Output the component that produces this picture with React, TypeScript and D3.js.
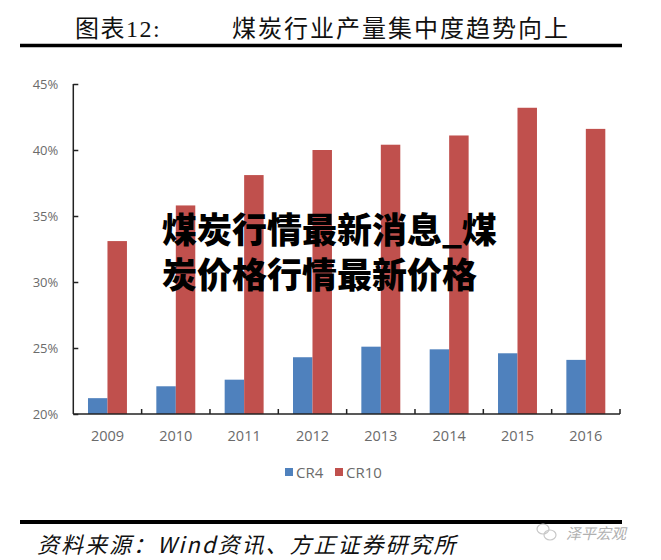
import * as d3 from "d3";
import { useEffect, useRef } from "react";

// chart data
const years = ["2009", "2010", "2011", "2012", "2013", "2014", "2015", "2016"];
const cr4 = [21.2, 22.1, 22.6, 24.3, 25.1, 24.9, 24.6, 24.1];
const cr10 = [33.1, 35.8, 38.1, 40.0, 40.4, 41.1, 43.2, 41.6];
const seriesNames = ["CR4", "CR10"];
const seriesColors = ["#4F81BD", "#C0504D"];
const yTicks = [20, 25, 30, 35, 40, 45];

const titleLabel = "图表12:";
const titleText = "煤炭行业产量集中度趋势向上";
const overlayLines = ["煤炭行情最新消息_煤", "炭价格行情最新价格"];
const sourceText = "资料来源：Wind资讯、方正证券研究所";
const brandText = "泽平宏观";

function App() {
  const ref = useRef<SVGSVGElement | null>(null);

  useEffect(() => {
    document.body.style.margin = "0";
    drawChart();
  }, []);

  const drawChart = () => {
    const width = 661;
    const height = 560;
    const margin = { top: 84, right: 41, bottom: 146, left: 73.3 };

    const svg = d3.select(ref.current);
    svg.selectAll("*").remove();
    svg.attr("width", width).attr("height", height);

    svg.append("rect").attr("width", width).attr("height", height).attr("fill", "#fff");

    // header
    svg
      .append("text")
      .attr("x", 75)
      .attr("y", 29)
      .attr("dominant-baseline", "central")
      .attr("font-family", "'Liberation Serif', 'Noto Sans CJK SC', serif")
      .attr("font-size", 24)
      .attr("letter-spacing", 1.5)
      .attr("fill", "#111")
      .text(titleLabel);
    svg
      .append("text")
      .attr("x", 232)
      .attr("y", 29)
      .attr("dominant-baseline", "central")
      .attr("font-family", "'Liberation Serif', 'Noto Sans CJK SC', serif")
      .attr("font-size", 24)
      .attr("letter-spacing", 2)
      .attr("fill", "#111")
      .text(titleText);
    svg
      .append("line")
      .attr("x1", 20)
      .attr("x2", 622)
      .attr("y1", 45.5)
      .attr("y2", 45.5)
      .attr("stroke", "#000")
      .attr("stroke-width", 3.5);

    const innerW = width - margin.left - margin.right;
    const innerH = height - margin.top - margin.bottom;

    const g = svg.append("g").attr("transform", `translate(${margin.left},${margin.top})`);

    const x = d3.scaleBand().domain(years).range([0, innerW]).paddingInner(0.43).paddingOuter(0.215);
    const xSub = d3.scaleBand().domain(seriesNames).range([0, x.bandwidth()]);
    const y = d3.scaleLinear().domain([20, 45]).range([innerH, 0]);

    // bars
    const values = [cr4, cr10];
    seriesNames.forEach((name, si) => {
      g.append("g")
        .selectAll("rect")
        .data(years)
        .join("rect")
        .attr("x", (d) => (x(d) ?? 0) + (xSub(name) ?? 0))
        .attr("y", (_d, i) => y(values[si][i]))
        .attr("width", xSub.bandwidth())
        .attr("height", (_d, i) => innerH - y(values[si][i]))
        .attr("fill", seriesColors[si]);
    });

    // y axis
    const yAxis = g
      .append("g")
      .call(
        d3
          .axisLeft(y)
          .tickValues(yTicks)
          .tickSize(-5)
          .tickPadding(15)
          .tickFormat((d) => `${d}%`)
      );
    yAxis.select(".domain").attr("stroke", "#222").attr("stroke-width", 1.5).attr("d", `M0,0V${innerH}`);
    yAxis.selectAll(".tick line").attr("stroke", "#222").attr("stroke-width", 1.5);
    yAxis
      .selectAll(".tick text")
      .attr("fill", "#6b6b6b")
      .attr("font-family", "'Open Sans', sans-serif")
      .attr("font-size", 13);

    // x axis with ticks between categories
    const step = x.step();
    const boundaries = d3.range(1, years.length + 1).map((k) => k * step);
    const xAxisG = g.append("g").attr("transform", `translate(0,${innerH})`);
    xAxisG
      .append("line")
      .attr("x1", 0)
      .attr("x2", innerW)
      .attr("stroke", "#222")
      .attr("stroke-width", 1.5);
    xAxisG
      .selectAll("line.tk")
      .data(boundaries)
      .join("line")
      .attr("class", "tk")
      .attr("x1", (d) => d)
      .attr("x2", (d) => d)
      .attr("y1", 0)
      .attr("y2", -5)
      .attr("stroke", "#222")
      .attr("stroke-width", 1.5);
    xAxisG
      .selectAll("text")
      .data(years)
      .join("text")
      .attr("x", (d) => (x(d) ?? 0) + x.bandwidth() / 2)
      .attr("y", 21)
      .attr("dominant-baseline", "central")
      .attr("text-anchor", "middle")
      .attr("fill", "#6b6b6b")
      .attr("font-family", "'Open Sans', sans-serif")
      .attr("font-size", 14.5)
      .text((d) => d);

    // legend
    const legendX = [285, 335];
    seriesNames.forEach((name, i) => {
      svg
        .append("rect")
        .attr("x", legendX[i])
        .attr("y", 468)
        .attr("width", 8)
        .attr("height", 8)
        .attr("fill", seriesColors[i]);
      svg
        .append("text")
        .attr("x", legendX[i] + 11)
        .attr("y", 472)
        .attr("dominant-baseline", "central")
        .attr("fill", "#6b6b6b")
        .attr("font-family", "'Open Sans', sans-serif")
        .attr("font-size", 15)
        .text(name);
    });

    // overlay caption
    overlayLines.forEach((line, i) => {
      svg
        .append("text")
        .attr("x", 162)
        .attr("y", 227 + i * 45)
        .attr("dominant-baseline", "central")
        .attr("font-family", "'Noto Sans CJK SC', sans-serif")
        .attr("font-weight", 900)
        .attr("font-size", 35)
        .attr("fill", "#000")
        .text(line);
    });

    // footer
    svg
      .append("line")
      .attr("x1", 20)
      .attr("x2", 622)
      .attr("y1", 522)
      .attr("y2", 522)
      .attr("stroke", "#000")
      .attr("stroke-width", 4);
    svg
      .append("text")
      .attr("x", 37)
      .attr("y", 543)
      .attr("dominant-baseline", "central")
      .attr("font-family", "'Noto Sans CJK SC', sans-serif")
      .attr("font-style", "italic")
      .attr("font-size", 22)
      .attr("letter-spacing", 2)
      .attr("fill", "#111")
      .text(sourceText);

    // brand watermark
    const logo = svg.append("g").attr("fill", "none").attr("stroke", "#c8c8c8").attr("stroke-width", 1.2);
    logo.append("ellipse").attr("cx", 543).attr("cy", 529).attr("rx", 6).attr("ry", 5);
    logo.append("ellipse").attr("cx", 550).attr("cy", 535).attr("rx", 6).attr("ry", 5);
    svg
      .append("text")
      .attr("x", 566)
      .attr("y", 532)
      .attr("dominant-baseline", "central")
      .attr("font-family", "'Noto Sans CJK SC', sans-serif")
      .attr("font-style", "italic")
      .attr("font-size", 15)
      .attr("fill", "#b0b0b0")
      .text(brandText);
  };

  return <svg ref={ref} style={{ display: "block" }} />;
}

export default App;
